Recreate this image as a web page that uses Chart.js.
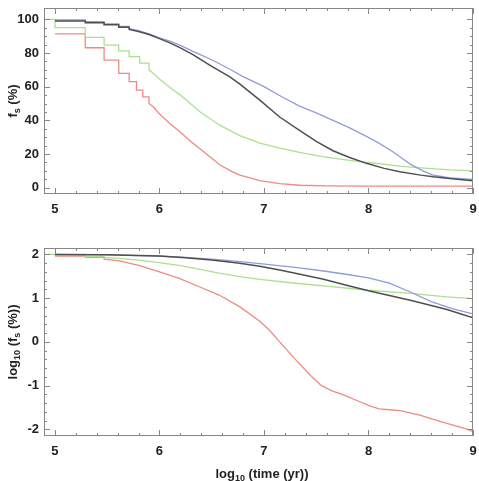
<!DOCTYPE html>
<html>
<head>
<meta charset="utf-8">
<script src="https://cdn.jsdelivr.net/npm/chart.js@4"></script>
<style>
  body { margin: 0; background: #fff; }
  .panel { position: absolute; left: 0; width: 479px; }
</style>
</head>
<body>
<div class="panel" style="top:0;height:225px"><canvas id="topChart"></canvas></div>
<div class="panel" style="top:225px;height:256px"><canvas id="bottomChart"></canvas></div>
<script>
// tick labels
const xTicks = [5, 6, 7, 8, 9];
const topYTicks = [0, 20, 40, 60, 80, 100];
const bottomYTicks = [-2, -1, 0, 1, 2];

// top panel: f_s (%)
const blackTopX = [5.0, 5.29, 5.29, 5.47, 5.47, 5.61, 5.61, 5.71, 5.71, 5.8, 5.9, 6.0, 6.1, 6.2, 6.32, 6.5, 6.67, 6.77, 6.96, 7.15, 7.34, 7.5, 7.66, 7.82, 7.98, 8.15, 8.3, 8.5, 8.62, 8.8, 9.0];
const blackTopY = [99, 99, 98, 98, 96.8, 96.8, 95.3, 95.3, 94, 92.8, 91, 88.5, 86, 83, 79, 72, 66, 61.5, 52, 42, 34, 27.5, 22, 18, 14.5, 11.5, 9.5, 7.5, 6.5, 5.3, 4.2];
const blueTopX = [5.0, 5.29, 5.29, 5.47, 5.47, 5.61, 5.61, 5.71, 5.71, 5.8, 5.9, 6.0, 6.1, 6.2, 6.32, 6.5, 6.67, 6.8, 7.0, 7.17, 7.34, 7.5, 7.66, 7.82, 7.98, 8.1, 8.23, 8.4, 8.52, 8.62, 8.78, 9.0];
const blueTopY = [99.6, 99.6, 98.6, 98.6, 97.2, 97.2, 95.8, 95.8, 94.4, 93.2, 91.3, 89, 87, 84.5, 81, 76, 70.5, 66, 60, 54, 48.5, 44.5, 40, 35.5, 30.5, 26.5, 21.5, 14, 10, 7.5, 5.8, 5.0];
const greenTopX = [4.9, 5.0, 5.0, 5.29, 5.29, 5.47, 5.47, 5.61, 5.61, 5.71, 5.71, 5.81, 5.81, 5.9, 5.9, 5.96, 6.0, 6.1, 6.2, 6.39, 6.58, 6.77, 6.96, 7.15, 7.34, 7.56, 7.82, 8.0, 8.3, 8.5, 8.78, 9.0];
const greenTopY = [100, 100, 95, 95, 89.3, 89.3, 84.7, 84.7, 81.2, 81.2, 77.8, 77.8, 74, 74, 70, 67, 64.5, 59.5, 55, 45, 37, 31, 26.5, 23.5, 21, 18.5, 16.3, 15, 12.8, 11.8, 10.6, 10];
const redTopX = [5.0, 5.29, 5.29, 5.47, 5.47, 5.61, 5.61, 5.71, 5.71, 5.78, 5.78, 5.84, 5.84, 5.9, 5.9, 5.95, 5.99, 6.05, 6.1, 6.19, 6.3, 6.39, 6.5, 6.58, 6.68, 6.77, 6.96, 7.15, 7.34, 7.6, 8.0, 9.0];
const redTopY = [91.3, 91.3, 83.1, 83.1, 75.8, 75.8, 67.9, 67.9, 63, 63, 58, 58, 54, 54, 50, 47.5, 44.5, 41, 38, 33.5, 27.5, 23, 17.5, 13.5, 10, 7.5, 4.3, 2.5, 1.5, 1.1, 1.0, 1.0];

// bottom panel: log10(f_s (%))
const blackBotX = [5.0, 5.5, 6.0, 6.25, 6.5, 6.75, 6.96, 7.15, 7.3, 7.57, 7.8, 8.0, 8.2, 8.4, 8.6, 8.75, 9.0];
const blackBotY = [1.995, 1.99, 1.96, 1.92, 1.87, 1.8, 1.73, 1.64, 1.57, 1.43, 1.29, 1.17, 1.06, 0.95, 0.83, 0.74, 0.55];
const blueBotX = [5.0, 5.5, 6.0, 6.25, 6.5, 6.75, 6.96, 7.3, 7.57, 7.8, 8.0, 8.2, 8.4, 8.6, 8.8, 9.0];
const blueBotY = [2.0, 1.99, 1.96, 1.93, 1.89, 1.84, 1.79, 1.7, 1.62, 1.54, 1.46, 1.34, 1.14, 0.92, 0.76, 0.64];
const greenBotX = [4.9, 5.0, 5.0, 5.29, 5.29, 5.47, 5.47, 5.61, 5.8, 6.0, 6.2, 6.4, 6.57, 6.77, 6.96, 7.3, 7.57, 8.0, 8.4, 8.75, 9.0];
const greenBotY = [2.0, 2.0, 1.98, 1.98, 1.95, 1.95, 1.93, 1.91, 1.87, 1.81, 1.74, 1.65, 1.57, 1.49, 1.43, 1.34, 1.28, 1.18, 1.11, 1.03, 0.99];
const redBotX = [5.0, 5.29, 5.29, 5.47, 5.47, 5.62, 5.81, 6.0, 6.19, 6.38, 6.57, 6.77, 6.96, 7.05, 7.15, 7.3, 7.45, 7.55, 7.65, 7.75, 7.9, 8.0, 8.1, 8.2, 8.3, 8.4, 8.5, 8.62, 8.75, 8.85, 8.95, 9.0];
const redBotY = [1.96, 1.96, 1.93, 1.93, 1.89, 1.85, 1.74, 1.6, 1.45, 1.26, 1.07, 0.8, 0.47, 0.27, 0.0, -0.4, -0.78, -1.0, -1.12, -1.2, -1.35, -1.45, -1.53, -1.55, -1.57, -1.62, -1.68, -1.77, -1.86, -1.93, -2.0, -2.05];

const FONT = 'Liberation Sans, Arial, Helvetica, sans-serif';
const TEXT = '#222';
const FRAME = '#888';

function pts(xs, ys) {
    return xs.map((x, i) => ({ x: x, y: ys[i] }));
}

function line(data, color, width) {
    return {
        data: data,
        borderColor: color,
        borderWidth: width,
        pointRadius: 0,
        fill: false,
        tension: 0
    };
}

// box around the plot with inward major/minor ticks on all four sides
const frameTicks = {
    id: 'frameTicks',
    afterDatasetsDraw(chart, args, opts) {
        const { ctx, chartArea: a, scales } = chart;
        ctx.save();
        ctx.strokeStyle = FRAME;
        ctx.lineWidth = 1;
        ctx.strokeRect(Math.round(a.left) + 0.5, Math.round(a.top) + 0.5,
            Math.round(a.width) - 1, Math.round(a.height) - 1);
        ctx.beginPath();
        for (let i = 0; i <= 20; i++) {
            const px = Math.round(scales.x.getPixelForValue(5 + i * 0.2)) + 0.5;
            const len = i % 5 === 0 ? 6 : 3;
            ctx.moveTo(px, a.bottom); ctx.lineTo(px, a.bottom - len);
            ctx.moveTo(px, a.top); ctx.lineTo(px, a.top + len);
        }
        for (let i = 0; i <= opts.count; i++) {
            const py = Math.round(scales.y.getPixelForValue(opts.start + i * opts.step)) + 0.5;
            const len = i % opts.every === 0 ? 6 : 3;
            ctx.moveTo(a.left, py); ctx.lineTo(a.left + len, py);
            ctx.moveTo(a.right, py); ctx.lineTo(a.right - len, py);
        }
        ctx.stroke();
        ctx.restore();
    }
};

// axis titles with subscripts
function drawRich(ctx, parts, cx, cy, rot) {
    ctx.save();
    ctx.translate(cx, cy);
    ctx.rotate(rot);
    ctx.fillStyle = TEXT;
    ctx.textBaseline = 'alphabetic';
    let w = 0;
    parts.forEach(p => {
        ctx.font = 'bold ' + (p[1] ? 9 : 13) + 'px ' + FONT;
        w += ctx.measureText(p[0]).width;
    });
    let x = -w / 2;
    parts.forEach(p => {
        ctx.font = 'bold ' + (p[1] ? 9 : 13) + 'px ' + FONT;
        ctx.fillText(p[0], x, p[1] ? 8 : 4.5);
        x += ctx.measureText(p[0]).width;
    });
    ctx.restore();
}

const axisTitles = {
    id: 'axisTitles',
    afterDraw(chart, args, opts) {
        (opts.items || []).forEach(it => drawRich(chart.ctx, it.parts, it.x, it.y, it.rot || 0));
    }
};

function makeChart(id, datasets, yMin, yMax, yTicks, padTop, xAxisH, minor, titles) {
    return new Chart(document.getElementById(id), {
        type: 'line',
        data: { datasets: datasets },
        options: {
            responsive: true,
            maintainAspectRatio: false,
            animation: false,
            layout: { padding: { top: padTop, right: 6, left: 0, bottom: 0 } },
            plugins: {
                legend: { display: false },
                tooltip: { enabled: false },
                frameTicks: minor,
                axisTitles: { items: titles }
            },
            scales: {
                x: {
                    type: 'linear',
                    min: 4.895,
                    max: 9,
                    grid: { display: false, drawTicks: false },
                    border: { display: false },
                    afterBuildTicks: s => { s.ticks = xTicks.map(v => ({ value: v })); },
                    afterFit: s => { s.height = xAxisH; s.paddingLeft = 0; s.paddingRight = 0; },
                    ticks: {
                        padding: 8, color: TEXT, maxRotation: 0, autoSkip: false,
                        font: { family: FONT, size: 13, weight: 'bold' },
                        callback: v => String(v)
                    }
                },
                y: {
                    type: 'linear',
                    min: yMin,
                    max: yMax,
                    grid: { display: false, drawTicks: false },
                    border: { display: false },
                    afterBuildTicks: s => { s.ticks = yTicks.map(v => ({ value: v })); },
                    afterFit: s => { s.width = 44; s.paddingTop = 0; s.paddingBottom = 0; },
                    ticks: {
                        padding: 5, color: TEXT, autoSkip: false,
                        font: { family: FONT, size: 13, weight: 'bold' },
                        callback: v => String(v)
                    }
                }
            }
        },
        plugins: [frameTicks, axisTitles]
    });
}

const BLACK = '#4f4f4f', BLUE = '#8f9cd8', GREEN = '#ace08f', RED = '#f08a80';

makeChart('topChart', [
    line(pts(blackTopX, blackTopY), BLACK, 1.5),
    line(pts(blueTopX, blueTopY), BLUE, 1.3),
    line(pts(greenTopX, greenTopY), GREEN, 1.3),
    line(pts(redTopX, redTopY), RED, 1.3)
], -3.7, 106.7, topYTicks, 8, 31,
    { start: 0, step: 5, count: 20, every: 4 },
    [{ parts: [['f', 0], ['s', 1], [' (%)', 0]], x: 12, y: 101, rot: -Math.PI / 2 }]);

makeChart('bottomChart', [
    line(pts(blackBotX, blackBotY), BLACK, 1.5),
    line(pts(blueBotX, blueBotY), BLUE, 1.3),
    line(pts(greenBotX, greenBotY), GREEN, 1.3),
    line(pts(redBotX, redBotY), RED, 1.3)
], -2.15, 2.145, bottomYTicks, 23, 45,
    { start: -2, step: 0.2, count: 20, every: 5 },
    [
        { parts: [['log', 0], ['10', 1], [' (f', 0], ['s', 1], [' (%))', 0]], x: 12, y: 117, rot: -Math.PI / 2 },
        { parts: [['log', 0], ['10', 1], [' (time (yr))', 0]], x: 262, y: 248 }
    ]);
</script>
</body>
</html>
